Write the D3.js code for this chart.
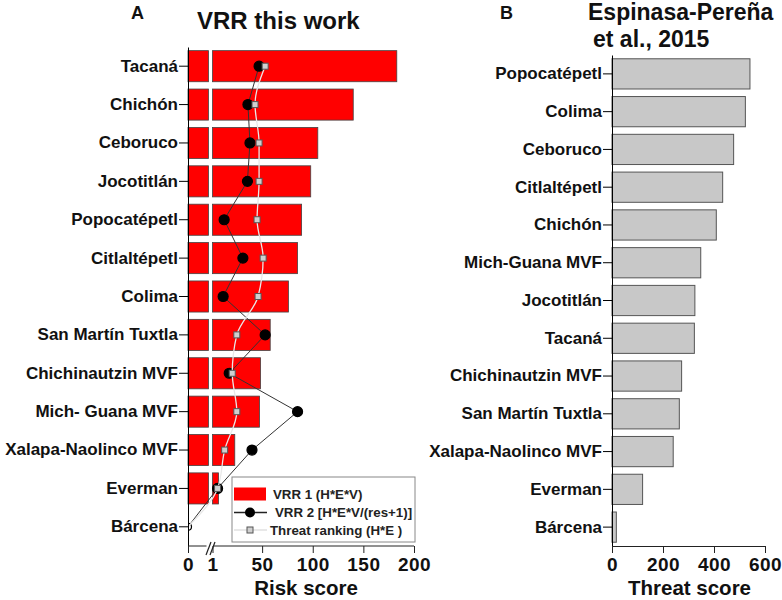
<!DOCTYPE html>
<html>
<head>
<meta charset="utf-8">
<script src="https://cdn.jsdelivr.net/npm/d3@7"></script>
<style>
  body { margin: 0; background: #fff; }
  text { font-family: Arial, "Liberation Sans", sans-serif; font-weight: bold; fill: #111; }
</style>
</head>
<body>
<div id="chart"></div>
<script>
// panel A: VRR this work
const volcanoesA = ['Tacaná', 'Chichón', 'Ceboruco', 'Jocotitlán', 'Popocatépetl', 'Citlaltépetl', 'Colima',
  'San Martín Tuxtla', 'Chichinautzin MVF', 'Mich- Guana MVF', 'Xalapa-Naolinco MVF', 'Everman', 'Bárcena']
const vrr1 = [183, 140, 105, 98, 89, 85, 76, 58, 48.5, 47.5, 23, 7, 0]
const vrr2 = [47, 36, 38, 35.5, 12.5, 31, 11.5, 53, 17.5, 85, 40, 6, 0]
const threatA = [53, 43, 47, 47, 45, 51, 46, 25, 20.5, 25, 13, 6, 0]
const riskTicksLow = [0]
const riskTicksHigh = [1, 50, 100, 150, 200]

// panel B: Espinasa-Pereña et al., 2015
const volcanoesB = ['Popocatépetl', 'Colima', 'Ceboruco', 'Citlaltépetl', 'Chichón', 'Mich-Guana MVF', 'Jocotitlán',
  'Tacaná', 'Chichinautzin MVF', 'San Martín Tuxtla', 'Xalapa-Naolinco MVF', 'Everman', 'Bárcena']
const threatB = [541, 523, 477, 434, 409, 348, 325, 323, 273, 264, 240, 120, 17]
const threatTicks = [0, 200, 400, 600]

const width = 782
const height = 600

const svg = d3.select('#chart')
  .append('svg')
  .attr('width', width)
  .attr('height', height)

// ---------- panel A ----------
const axA = { left: 188, breakL: 208.5, breakR: 212.5, right: 414, top: 47, bottom: 546 }
const xLow = d3.scaleLinear().domain([0, 1]).range([axA.left, axA.breakL])
const xHigh = d3.scaleLinear().domain([1, 200]).range([axA.breakR, axA.right])
const xA = (v) => (v <= 1 ? xLow(v) : xHigh(v))

const yA = d3.scaleBand()
  .domain(volcanoesA)
  .range([axA.top, axA.bottom])
  .paddingInner(0.19)
  .paddingOuter(0.095)

const dataA = volcanoesA.map((name, i) => ({ name, vrr1: vrr1[i], vrr2: vrr2[i], threat: threatA[i] }))

const gA = svg.append('g')

// bars: one piece each side of the axis break
gA.append('g')
  .selectAll('rect')
  .data(dataA.filter((d) => d.vrr1 > 0))
  .enter()
  .append('rect')
  .attr('x', xLow(0))
  .attr('y', (d) => yA(d.name))
  .attr('width', (d) => xLow(Math.min(d.vrr1, 1)) - xLow(0))
  .attr('height', yA.bandwidth())
  .attr('fill', '#ff0000')
  .attr('stroke', '#444')
  .attr('stroke-width', 0.8)

gA.append('g')
  .selectAll('rect')
  .data(dataA.filter((d) => d.vrr1 > 1))
  .enter()
  .append('rect')
  .attr('x', xHigh(1))
  .attr('y', (d) => yA(d.name))
  .attr('width', (d) => xHigh(d.vrr1) - xHigh(1))
  .attr('height', yA.bandwidth())
  .attr('fill', '#ff0000')
  .attr('stroke', '#444')
  .attr('stroke-width', 0.8)

svg.append('clipPath')
  .attr('id', 'clipA')
  .append('rect')
  .attr('x', axA.left)
  .attr('y', 0)
  .attr('width', axA.right - axA.left + 10)
  .attr('height', height)

const cy = (d) => yA(d.name) + yA.bandwidth() / 2
const marks = gA.append('g').attr('clip-path', 'url(#clipA)')

// VRR 2 line + circles
marks.append('path')
  .datum(dataA)
  .attr('fill', 'none')
  .attr('stroke', '#333')
  .attr('stroke-width', 1)
  .attr('d', d3.line().x((d) => xA(d.vrr2)).y(cy))

marks.append('g')
  .selectAll('circle')
  .data(dataA)
  .enter()
  .append('circle')
  .attr('cx', (d) => xA(d.vrr2))
  .attr('cy', cy)
  .attr('r', (d) => (d.vrr2 > 0 ? 5 : 3.5))
  .attr('fill', (d) => (d.vrr2 > 0 ? '#000' : '#fff'))
  .attr('stroke', '#000')
  .attr('stroke-width', 1.2)

// threat ranking line + squares
marks.append('path')
  .datum(dataA)
  .attr('fill', 'none')
  .attr('stroke', '#e8e8e8')
  .attr('stroke-width', 1.3)
  .attr('d', d3.line().curve(d3.curveMonotoneY).x((d) => xA(d.threat)).y(cy))

const sq = 6
marks.append('g')
  .selectAll('rect')
  .data(dataA.filter((d) => d.threat > 0))
  .enter()
  .append('rect')
  .attr('x', (d) => xA(d.threat) - sq / 2)
  .attr('y', (d) => cy(d) - sq / 2)
  .attr('width', sq)
  .attr('height', sq)
  .attr('fill', '#cfcfcf')
  .attr('stroke', '#555')
  .attr('stroke-width', 1)

// axes A
const yAxisA = gA.append('g')
  .attr('transform', `translate(${axA.left},0)`)
  .call(d3.axisLeft(yA).tickSize(9).tickSizeOuter(0).tickPadding(1))
yAxisA.selectAll('text').style('font-size', '17px')

function styleX(g) {
  g.selectAll('text').style('font-size', '19px').style('letter-spacing', '0.5px')
  g.select('.domain').attr('stroke', '#222')
  g.selectAll('.tick line').attr('stroke', '#222')
}

gA.append('g')
  .attr('transform', `translate(0,${axA.bottom})`)
  .call(d3.axisBottom(xLow).tickValues(riskTicksLow).tickFormat(d3.format('d'))
    .tickSize(7).tickSizeOuter(0).tickPadding(5))
  .call(styleX)
  .select('.domain').attr('d', `M${axA.left},0H${axA.breakL - 2}`)

gA.append('g')
  .attr('transform', `translate(0,${axA.bottom})`)
  .call(d3.axisBottom(xHigh).tickValues(riskTicksHigh).tickFormat(d3.format('d'))
    .tickSize(7).tickSizeOuter(0).tickPadding(5))
  .call(styleX)
  .select('.domain').attr('d', `M${axA.breakR + 1},0H${axA.right}`)

// break marks
const bx = (axA.breakL + axA.breakR) / 2
gA.append('g')
  .attr('stroke', '#222')
  .attr('stroke-width', 1.2)
  .selectAll('line')
  .data([-2, 2])
  .enter()
  .append('line')
  .attr('x1', (d) => bx + d - 2.5)
  .attr('x2', (d) => bx + d + 2.5)
  .attr('y1', axA.bottom + 9)
  .attr('y2', axA.bottom - 4)

gA.append('text')
  .attr('x', (axA.left + axA.right) / 2 + 5)
  .attr('y', 595)
  .attr('text-anchor', 'middle')
  .style('font-size', '20.5px')
  .text('Risk score')

gA.append('text').attr('x', 131).attr('y', 19).style('font-size', '18px').text('A')
gA.append('text').attr('x', 197).attr('y', 29).style('font-size', '24px').text('VRR this work')

// legend
const lg = gA.append('g')
lg.append('rect')
  .attr('x', 232).attr('y', 477).attr('width', 183).attr('height', 65)
  .attr('fill', '#fff').attr('stroke', '#888').attr('stroke-width', 1)
lg.append('rect')
  .attr('x', 234).attr('y', 487.5).attr('width', 32).attr('height', 13)
  .attr('fill', '#ff0000')
lg.append('line')
  .attr('x1', 234).attr('x2', 267).attr('y1', 512.5).attr('y2', 512.5)
  .attr('stroke', '#222').attr('stroke-width', 1.5)
lg.append('circle').attr('cx', 250).attr('cy', 512.5).attr('r', 5).attr('fill', '#000')
lg.append('line')
  .attr('x1', 234).attr('x2', 267).attr('y1', 530).attr('y2', 530)
  .attr('stroke', '#e0e0e0').attr('stroke-width', 1.5)
lg.append('rect')
  .attr('x', 250 - sq / 2).attr('y', 530 - sq / 2).attr('width', sq).attr('height', sq)
  .attr('fill', '#cfcfcf').attr('stroke', '#555')
const legendText = [['VRR 1 (H*E*V)', 273, 499], ['VRR 2 [H*E*V/(res+1)]', 275, 517], ['Threat ranking (H*E )', 270, 535]]
lg.selectAll('text.lt')
  .data(legendText)
  .enter()
  .append('text')
  .attr('class', 'lt')
  .attr('x', (d) => d[1])
  .attr('y', (d) => d[2])
  .style('font-size', '13.3px')
  .style('fill', '#222')
  .text((d) => d[0])

// ---------- panel B ----------
const axB = { left: 612, right: 765, top: 55, bottom: 546 }
const xB = d3.scaleLinear().domain([0, 600]).range([axB.left, axB.right])
const yB = d3.scaleBand()
  .domain(volcanoesB)
  .range([axB.top, axB.bottom])
  .paddingInner(0.2)
  .paddingOuter(0.1)

const gB = svg.append('g')

gB.append('g')
  .selectAll('rect')
  .data(volcanoesB.map((name, i) => ({ name, value: threatB[i] })))
  .enter()
  .append('rect')
  .attr('x', xB(0))
  .attr('y', (d) => yB(d.name))
  .attr('width', (d) => xB(d.value) - xB(0))
  .attr('height', yB.bandwidth())
  .attr('fill', '#c8c8c8')
  .attr('stroke', '#555')
  .attr('stroke-width', 1)

const yAxisB = gB.append('g')
  .attr('transform', `translate(${axB.left},0)`)
  .call(d3.axisLeft(yB).tickSize(9).tickSizeOuter(0).tickPadding(1))
yAxisB.selectAll('text').style('font-size', '17px')

gB.append('g')
  .attr('transform', `translate(0,${axB.bottom})`)
  .call(d3.axisBottom(xB).tickValues(threatTicks).tickSize(7).tickSizeOuter(0).tickPadding(5))
  .call(styleX)

gB.append('text')
  .attr('x', (axB.left + axB.right) / 2 + 1)
  .attr('y', 595)
  .attr('text-anchor', 'middle')
  .style('font-size', '20.5px')
  .text('Threat score')

gB.append('text').attr('x', 500).attr('y', 19).style('font-size', '18px').text('B')
gB.append('text').attr('x', 588).attr('y', 20).style('font-size', '23px').text('Espinasa-Pereña')
gB.append('text').attr('x', 593).attr('y', 47).style('font-size', '23px').text('et al., 2015')
</script>
</body>
</html>
